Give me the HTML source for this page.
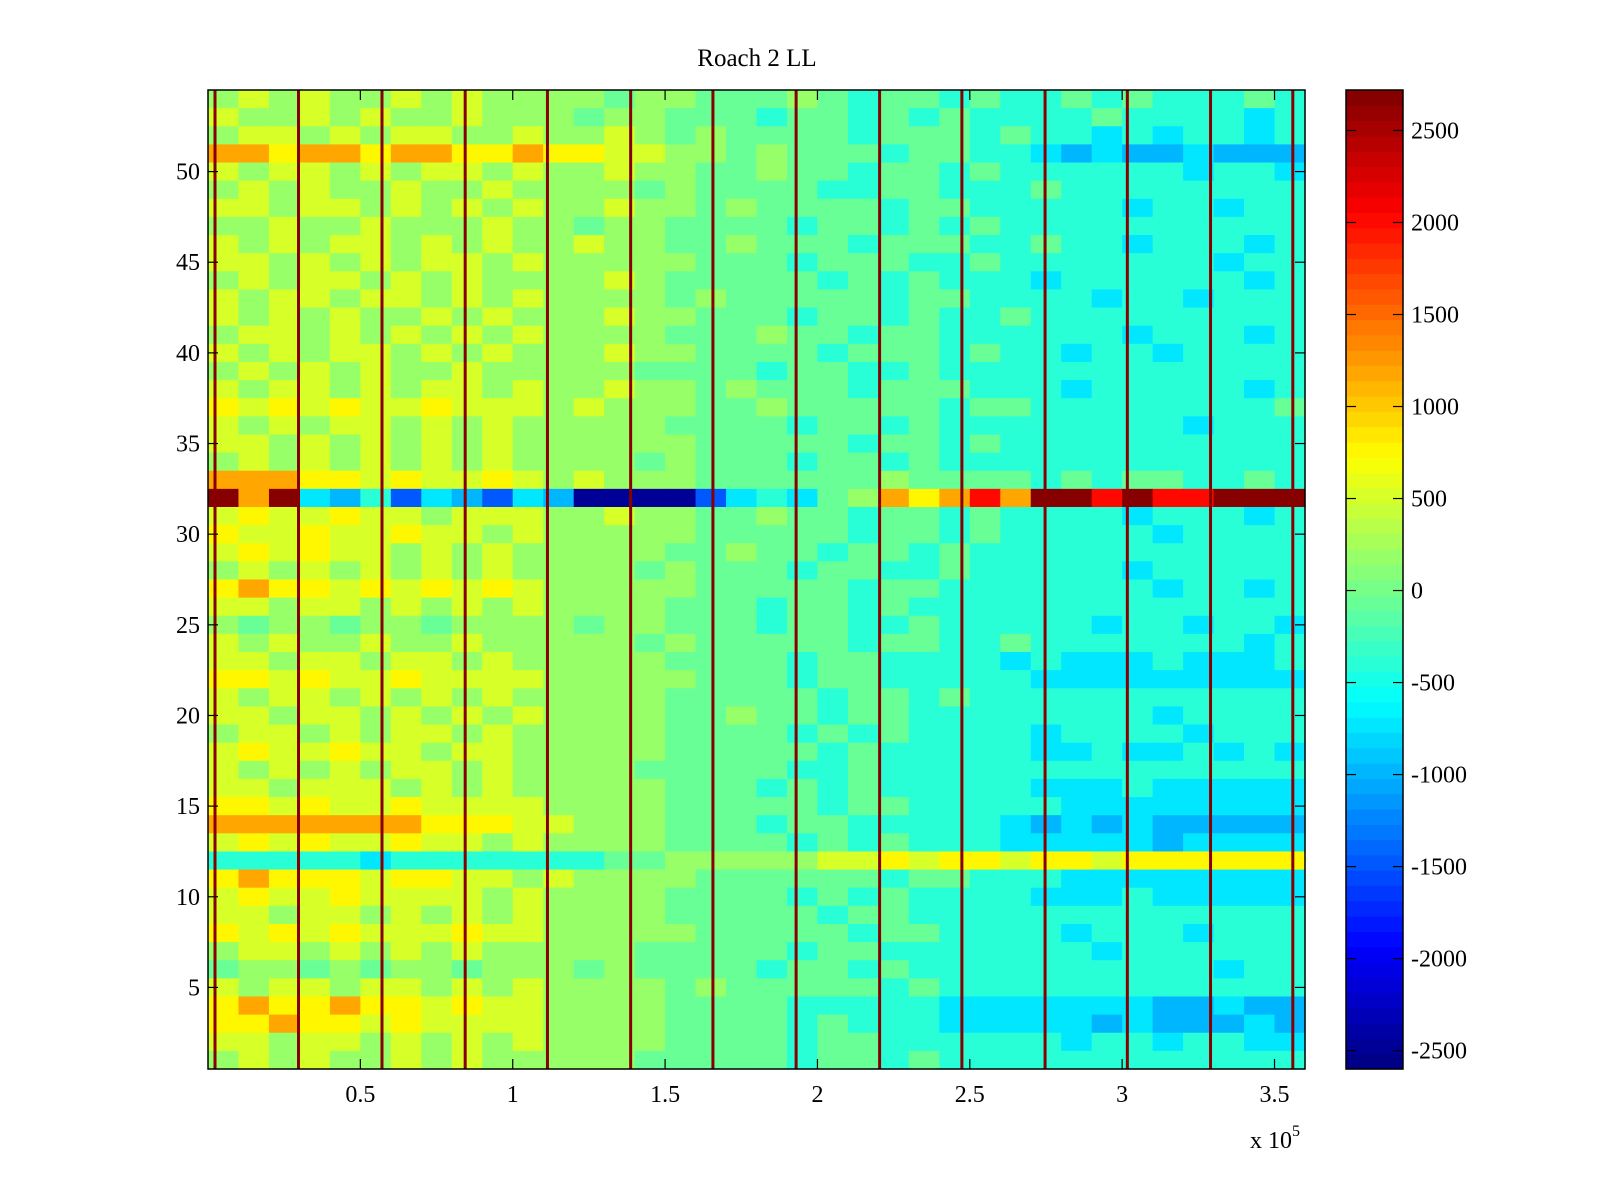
<!DOCTYPE html>
<html><head><meta charset="utf-8"><style>
html,body{margin:0;padding:0;background:#fff;}
svg{display:block;font-family:"Liberation Serif",serif;}
</style></head><body>
<svg id="chart" width="1600" height="1200" viewBox="0 0 1600 1200" xmlns="http://www.w3.org/2000/svg">
<text x="757" y="66" font-size="25" text-anchor="middle">Roach 2 LL</text>
<g id="cells"></g>
<g id="spikes"></g>
<rect x="208" y="90" width="1097" height="979" fill="none" stroke="#000" stroke-width="1.5"/>
<g id="axes"></g>
<g id="cbar"></g>
<text x="1250" y="1148" font-size="24">x 10<tspan dy="-12" font-size="16">5</tspan></text>
</svg>
<script>
const rowData = [
"GHGHGGHGHGGGGFGGFFFGFEFFEFEEFEFEEEFE",
"HGGHGHGGHGGGFGGFFFEFFEFEFEEEEFEEEEDE",
"GHHGHGHHGGHGGHGFGFFFFEFFFEFEEDEDEEDE",
"JJIJJIJJIIJIIHHGGFGFFFEFFEEDCDCCDCCC",
"HGHHGHGHHGHGGHGGFFGFFEFFEFEEEEEEDEED",
"GHGHGGHGGHGGGGFGFFFFEEFFEEEFEEEEEEEE",
"HHGHHGHGHGHGGHGGFGFFFFEFFEEEEEDEEDEE",
"GGHGGHGGGHGGFGGFFFFEFFEFEFEEEEEEEEEE",
"HGHGHHGHGHGGHGGFFGFFFEFFFEEFEEDEEEDE",
"HHGHGHGHHGHGGGGGFFFEFFFEEFEEEEEEEDEE",
"GHGHHGHGHGGGGHGFFFFFEFEFEEEDEEEEEEDE",
"HGHHGHHGHGHGGGGFGFFFFFEFFEEEEDEEDEEE",
"HGHGHGGHGHGGGHGGFFFEFFEFEEFEEEEEEEEE",
"GHHGHGHGHGHGGGGFFFGFFEFFEEEEEEDEEEDE",
"HGHGHHGHGHGGGHGGFFFFEFFFEFEEDEEDEEEE",
"GHGHGHGGHGGGGGFFFFEFFEEFEEEEEEEEEEEE",
"HGHHGHGHHGHGGHGGFGFFFEFFFEEEDEEEEEDE",
"IHIHIHHIHHHGHGGGFFGFFFFFEFFEEEEEEEEF",
"HGHGHHGHGHGGGGGFFFFEFFEFEEEEEEEEDEEE",
"HHGHGHGHGHGGGGGGFFFFFEFFEFEEEEEEEEEE",
"GHGHGHGHGHGGGGFGFFFEFFEFEEEEEEEEEEEE",
"JJJIIHIHHIHGHGGGFFFFFFGFFFFEFEFFEEFE",
"LJLDCEBDCBDCAAAABDEDFGJIJKJLLKLKKLLL",
"HIHHIHHGHHHGGHGGFFGFFEFFEFEEEEDEEEDE",
"IHHIHHIHHGHGGGGGFFFFFEFFEFEEEEEDEEEE",
"HIHIHHGHGHGGGGGFFGFFEFFEFEEEEEEEEEEE",
"GHGHGHGHGHGGGGFGFFFEFFEEFEEEEEDEEEEE",
"IJIIHIHIHIHGGGGGFFFFFEFFEEEEEEEDEEDE",
"HHGHHGHGHGHGGGGFFFEFFEFEEEEEEEEEEEEE",
"GFGGFGGFGGGGFGGFFFEFFEEFEEEEEDEEDEED",
"HGHGGHGGHGGGGGFGFFFFFEFFEEFEEEEEEEDE",
"HHGHHGHHGHGGGGGFFFFEFFEEEEDEDDDEDDDE",
"IIHIHHIHHHHGGGGGFFFEFFEEEEEDDDDDDDDD",
"HGHHGHGHGHGGGGGFFFFFEFFEFEEEEEEEEEEE",
"HHGHHGHGHGHGGGGFFGFFEFFEEEEEEEEDEEEE",
"GHHGHGHHGHGGGGGFFFFEFEFEEEEDEEEEDEEE",
"HIHHIHHGHHGGGGGFFFFFEFEEEEEDDEDDEDED",
"HGHGHGHHGHGGGGFFFFFEEFEEEEEEEEEEEEEE",
"HHGHHHGHGHGGGGGFFFEFEFEEEEEDDDEDDDDD",
"IIHIHHIHHHHGGGGFFFFFEFFEEEEEDDDDDDDD",
"JJJJJJJIIIHHGGGFFFEFFEEEEEDCDCDCCCCC",
"HIHIHHIHHGHGGGGFFFFEFEFEEEDDDDDCDDDD",
"EEEEEDEEEEEEEFFGGGGGHHIHIIHIIHIIIIII",
"IJIIIHIIHHGHGGGGFFFFFFEFFEEEDDDDDDDD",
"HIHHIHHHHGHGGGGFFFFEFEFEEEEDDDEDDDDD",
"HHGHHGHGHGHGGGGFFFFFEFFEEEEEEEEEEEEE",
"IHIHIHHHIHHGGGGGFFFFFEFFEEEEDEEEDEEE",
"GHHGHGHGHGGGGGFFFFFEFFEEEEEEEDEEEEEE",
"FGGFGFGGFGGGFGFFFFEFFEFEEEEEEEEEEDEE",
"HGHHGHHGHGHGGGGFGFFFFFEFEEEEEEEEEEEE",
"IJIIJIIHIHHGGGGFFFFEEEEEDDDDDDDCCDCC",
"IIJIIHIHHHHGGGGFFFFEFEEEDDDDDCDCCCDC",
"HHGHHGHGHGHGGGGFFFFEFFEEEEEEDEEDEEDD",
"GHGHGGHGHGGGGGFFFFFEFFEFEEEEEEEEEEEE"
];
const levelCodes = "ABCDEFGHIJKL";
const levelValues = [-2500,-1500,-1000,-700,-400,-100,200,500,800,1200,2000,2700];
const spikeX = [2300,29700,57100,84400,111400,138700,165700,193000,220400,247400,274700,301700,329000,356000];
const spikeValue = 2700;
const xTicks = [0.5,1,1.5,2,2.5,3,3.5];
const xTickLabels = ["0.5","1","1.5","2","2.5","3","3.5"];
const yTicks = [5,10,15,20,25,30,35,40,45,50];
const cbTicks = [2500,2000,1500,1000,500,0,-500,-1000,-1500,-2000,-2500];

const NS="http://www.w3.org/2000/svg";
const PL=208,PR=1305,PT=90,PB=1069;
const XMIN=0,XMAX=360000,YMIN=0.5,YMAX=54.5,CMIN=-2600,CMAX=2720;
const xs=v=>PL+(v-XMIN)/(XMAX-XMIN)*(PR-PL);
const ys=v=>PT+(YMAX-v)/(YMAX-YMIN)*(PB-PT);
const CBL=1346,CBR=1403;
const cs=v=>PT+(CMAX-v)/(CMAX-CMIN)*(PB-PT);
function jet(t){t=Math.max(0,Math.min(1,t));
 const f=x=>Math.max(0,Math.min(1,x));
 const r=f(1.5-Math.abs(4*t-3)),g=f(1.5-Math.abs(4*t-2)),b=f(1.5-Math.abs(4*t-1));
 return `rgb(${Math.round(r*255)},${Math.round(g*255)},${Math.round(b*255)})`;}
function colorOf(v){const n=64;let k=Math.floor((v-CMIN)/(CMAX-CMIN)*n);k=Math.max(0,Math.min(n-1,k));return jet((k+0.5)/n);}
function mk(tag,attrs,parent){const e=document.createElementNS(NS,tag);for(const k in attrs)e.setAttribute(k,attrs[k]);parent.appendChild(e);return e;}

const cells=document.getElementById('cells');
rowData.forEach((s,ri)=>{
 const yv=54-ri;
 const n=s.length,cw=(XMAX-XMIN)/n;
 for(let c=0;c<n;c++){
  const v=levelValues[levelCodes.indexOf(s[c])];
  const x0=xs(XMIN+c*cw),x1=xs(XMIN+(c+1)*cw);
  const r=mk('rect',{x:x0,y:ys(yv+0.5),width:x1-x0+0.6,height:ys(yv-0.5)-ys(yv+0.5)+0.6,fill:colorOf(v)},cells);
  
  
 }
});
const spikes=document.getElementById('spikes');
spikeX.forEach(x=>{
 const r=mk('rect',{x:xs(x)-1.5,y:PT,width:3,height:PB-PT,fill:colorOf(spikeValue)},spikes);
 
 
});
const axes=document.getElementById('axes');
xTicks.forEach((t,i)=>{
 const x=xs(t*1e5);
 const a=mk('line',{x1:x,x2:x,y1:PB,y2:PB-10,stroke:'#000','stroke-width':1.2},axes);
 
 
 mk('line',{x1:x,x2:x,y1:PT,y2:PT+10,stroke:'#000','stroke-width':1.2},axes);
 const tx=mk('text',{x:x,y:PB+33,'font-size':24,'text-anchor':'middle'},axes);
 tx.textContent=xTickLabels[i];
 
 
});
yTicks.forEach(t=>{
 const y=ys(t);
 const a=mk('line',{x1:PL,x2:PL+10,y1:y,y2:y,stroke:'#000','stroke-width':1.2},axes);
 
 
 mk('line',{x1:PR,x2:PR-10,y1:y,y2:y,stroke:'#000','stroke-width':1.2},axes);
 const tx=mk('text',{x:PL-8,y:y+8,'font-size':24,'text-anchor':'end'},axes);
 tx.textContent=String(t);
 
 
});
const cbar=document.getElementById('cbar');
for(let k=0;k<64;k++){
 const v0=CMIN+k*(CMAX-CMIN)/64,v1=CMIN+(k+1)*(CMAX-CMIN)/64;
 const r=mk('rect',{x:CBL,y:cs(v1),width:CBR-CBL,height:cs(v0)-cs(v1)+0.6,fill:jet((k+0.5)/64)},cbar);
 
 
}
mk('rect',{x:CBL,y:PT,width:CBR-CBL,height:PB-PT,fill:'none',stroke:'#000','stroke-width':1.5},cbar);
cbTicks.forEach(t=>{
 const y=cs(t);
 mk('line',{x1:CBL,x2:CBL+10,y1:y,y2:y,stroke:'#000','stroke-width':1.2},cbar);
 mk('line',{x1:CBR,x2:CBR-10,y1:y,y2:y,stroke:'#000','stroke-width':1.2},cbar);
 const tx=mk('text',{x:CBR+8,y:y+8,'font-size':24},cbar);
 tx.textContent=String(t);
 
 
});
</script>
</body></html>
